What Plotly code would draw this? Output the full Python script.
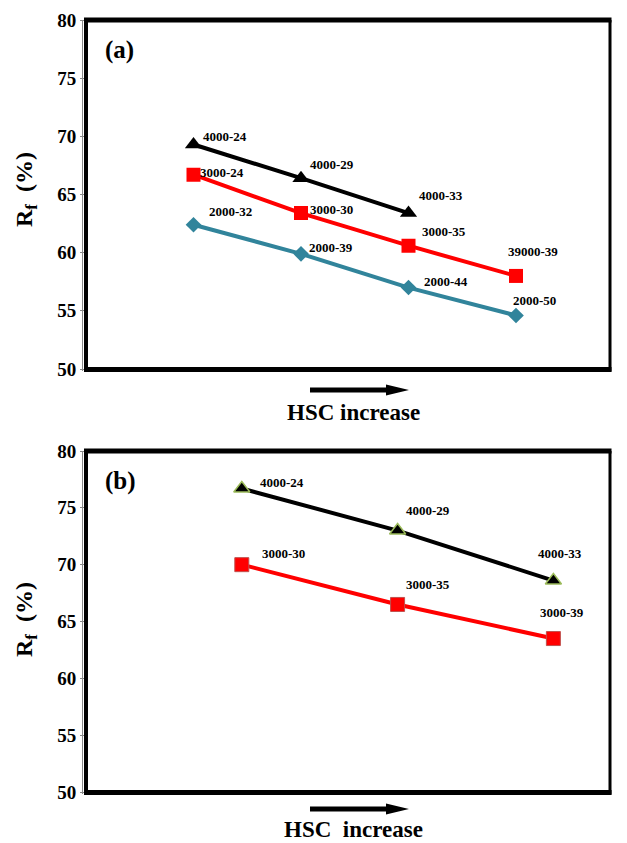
import plotly.graph_objects as go

# ---------------- data ----------------
# panel (a)
a_x_black = [1, 2, 3]
a_y_black = [69.3, 66.4, 63.4]
a_lab_black = ["4000-24", "4000-29", "4000-33"]

a_x_red = [1, 2, 3, 4]
a_y_red = [66.7, 63.4, 60.6, 58.0]
a_lab_red = ["3000-24", "3000-30", "3000-35", "39000-39"]

a_x_teal = [1, 2, 3, 4]
a_y_teal = [62.4, 59.9, 57.0, 54.6]
a_lab_teal = ["2000-32", "2000-39", "2000-44", "2000-50"]

# panel (b)
b_x_black = [1, 2, 3]
b_y_black = [76.7, 73.0, 68.6]
b_lab_black = ["4000-24", "4000-29", "4000-33"]

b_x_red = [1, 2, 3]
b_y_red = [70.0, 66.5, 63.5]
b_lab_red = ["3000-30", "3000-35", "3000-39"]

y_ticks = [50, 55, 60, 65, 70, 75, 80]

# label offsets (pixels, dx, dy) - styling only
a_off_black = [(31, 8), (31, 14), (32, 18)]
a_off_red = [(28, 2), (30, 4), (35, 14), (17, 24)]
a_off_teal = [(37, 13), (30, 6), (37, 6), (18, 15)]
b_off_black = [(40, 6), (30, 20), (7, 27)]
b_off_red = [(42, 11), (30, 20), (9, 26)]

OFF = 8  # page body margin
W, H = 627 - OFF, 843 - OFF
FONT = "Liberation Serif, Times New Roman, serif"
RED = "#FF0000"
TEAL = "#31849B"

# frame pixel boxes (left, top, right, bottom) - layout only
FRAMES = [(86, 20, 610, 369), (86, 451, 610, 792)]


def px(x):
    return (x - OFF) / W


def py(y):
    return 1 - (y - OFF) / H


fig = go.Figure()

# panel (a) traces
fig.add_trace(go.Scatter(x=a_x_teal, y=a_y_teal, mode="lines+markers",
                         line=dict(color=TEAL, width=4),
                         marker=dict(symbol="diamond", size=12, color=TEAL),
                         xaxis="x", yaxis="y", showlegend=False))
fig.add_trace(go.Scatter(x=a_x_red, y=a_y_red, mode="lines+markers",
                         line=dict(color=RED, width=4),
                         marker=dict(symbol="square", size=14, color=RED),
                         xaxis="x", yaxis="y", showlegend=False))
fig.add_trace(go.Scatter(x=a_x_black, y=a_y_black, mode="lines+markers",
                         line=dict(color="black", width=4),
                         marker=dict(symbol="triangle-up", size=15, color="black"),
                         xaxis="x", yaxis="y", showlegend=False))

# panel (b) traces
fig.add_trace(go.Scatter(x=b_x_red, y=b_y_red, mode="lines+markers",
                         line=dict(color=RED, width=4),
                         marker=dict(symbol="square", size=14, color=RED,
                                     line=dict(color="#C0504D", width=1)),
                         xaxis="x2", yaxis="y2", showlegend=False))
fig.add_trace(go.Scatter(x=b_x_black, y=b_y_black, mode="lines+markers",
                         line=dict(color="black", width=4),
                         marker=dict(symbol="triangle-up", size=14, color="black",
                                     line=dict(color="#9BBB59", width=1.5)),
                         xaxis="x2", yaxis="y2", showlegend=False))

annotations = []


def add_labels(xs, ys, labs, offs, xr, yr):
    for x, y, t, (dx, dy) in zip(xs, ys, labs, offs):
        annotations.append(dict(x=x, y=y, xref=xr, yref=yr, text=t, showarrow=False,
                                xanchor="center", yanchor="middle",
                                xshift=dx, yshift=dy,
                                font=dict(family=FONT, size=13, color="black", weight="bold")))


add_labels(a_x_black, a_y_black, a_lab_black, a_off_black, "x", "y")
add_labels(a_x_red, a_y_red, a_lab_red, a_off_red, "x", "y")
add_labels(a_x_teal, a_y_teal, a_lab_teal, a_off_teal, "x", "y")
add_labels(b_x_black, b_y_black, b_lab_black, b_off_black, "x2", "y2")
add_labels(b_x_red, b_y_red, b_lab_red, b_off_red, "x2", "y2")

# panel letters
annotations.append(dict(x=px(103), y=py(50), xref="paper", yref="paper", text="(a)",
                        showarrow=False, xanchor="left", yanchor="middle",
                        font=dict(family=FONT, size=25, color="black", weight="bold")))
annotations.append(dict(x=px(103), y=py(481), xref="paper", yref="paper", text="(b)",
                        showarrow=False, xanchor="left", yanchor="middle",
                        font=dict(family=FONT, size=25, color="black", weight="bold")))

# axis titles
for yc in (190, 620):
    annotations.append(dict(x=px(26), y=py(yc), xref="paper", yref="paper",
                            text="R<sub>f</sub>  (%)", textangle=-90, showarrow=False,
                            xanchor="center", yanchor="middle",
                            font=dict(family=FONT, size=24, color="black", weight="bold")))
annotations.append(dict(x=px(353), y=py(413), xref="paper", yref="paper", text="HSC increase",
                        showarrow=False, xanchor="center", yanchor="middle",
                        font=dict(family=FONT, size=23, color="black", weight="bold")))
annotations.append(dict(x=px(353), y=py(829), xref="paper", yref="paper",
                        text="HSC\u00a0 increase",
                        showarrow=False, xanchor="center", yanchor="middle",
                        font=dict(family=FONT, size=23, color="black", weight="bold")))

shapes = []


def hline(x0, x1, y, w, c="black"):
    return dict(type="line", xref="paper", yref="paper", x0=px(x0), x1=px(x1),
                y0=py(y), y1=py(y), line=dict(color=c, width=w))


def vline(x, y0, y1, w, c="black"):
    return dict(type="line", xref="paper", yref="paper", x0=px(x), x1=px(x),
                y0=py(y0), y1=py(y1), line=dict(color=c, width=w))


for (l, t, r, b) in FRAMES:
    shapes.append(vline(l - 3.5, t, b + 2, 1, "#888888"))
    shapes.append(hline(l - 2, r + 1.5, t, 5))
    shapes.append(hline(l - 2, r + 1.5, b + 0.5, 5))
    shapes.append(vline(r, t, b + 2.5, 3))
    shapes.append(vline(l, t, b + 2.5, 4))


def arrow(yc):
    x0, xb, xt = 310, 386, 409
    pts = [(x0, yc - 2.5), (xb, yc - 2.5), (xb, yc - 5.5), (xt, yc), (xb, yc + 5.5),
           (xb, yc + 2.5), (x0, yc + 2.5)]
    d = "M " + " L ".join(f"{px(a):.5f},{py(b):.5f}" for a, b in pts) + " Z"
    return dict(type="path", xref="paper", yref="paper", path=d,
                fillcolor="black", line=dict(color="black", width=0))


shapes.append(arrow(390))
shapes.append(arrow(809))

yaxis_common = dict(range=[50, 80], tickvals=y_ticks, ticks="outside", ticklen=5,
                    tickcolor="#888888", tickwidth=1, showgrid=False, zeroline=False,
                    showline=False, automargin=False,
                    tickfont=dict(family=FONT, size=19, color="black", weight="bold"))

fig.update_layout(
    width=W, height=H,
    margin=dict(l=0, r=0, t=0, b=0, pad=0, autoexpand=False),
    paper_bgcolor="white", plot_bgcolor="white",
    xaxis=dict(domain=[px(86), px(623.5)], range=[0, 5], visible=False, anchor="y",
               automargin=False),
    yaxis=dict(domain=[py(369), py(20)], anchor="x", **yaxis_common),
    xaxis2=dict(domain=[px(86), px(623.5)], range=[0, 3.45], visible=False, anchor="y2",
                automargin=False),
    yaxis2=dict(domain=[py(792), py(451)], anchor="x2", **yaxis_common),
    annotations=annotations,
    shapes=shapes,
)

fig.write_html("out.html")
